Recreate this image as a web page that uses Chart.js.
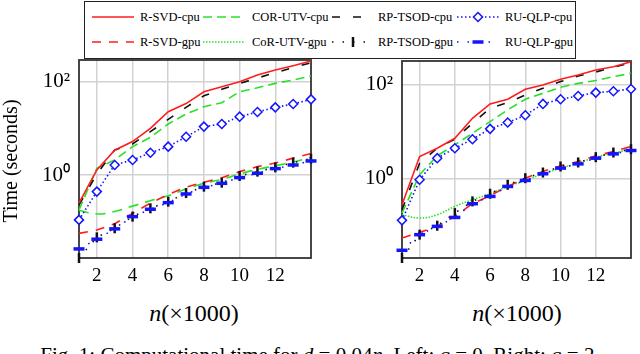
<!DOCTYPE html>
<html>
<head>
<meta charset="utf-8">
<script src="https://cdn.jsdelivr.net/npm/chart.js@4.4.0/dist/chart.umd.min.js"></script>
<style>
html,body{margin:0;padding:0;background:#fff;}
body{width:640px;height:354px;position:relative;overflow:hidden;font-family:"Liberation Serif",serif;color:#000;}
canvas{position:absolute;top:0;}
#c1{left:0;} #c2{left:320px;}
#legendBox{position:absolute;left:84px;top:1px;width:492px;height:58px;border:1.5px solid #222;box-sizing:border-box;background:#fff;z-index:2;}
.lt{position:absolute;font-size:12.5px;line-height:14px;white-space:nowrap;z-index:3;}
.ls{position:absolute;z-index:3;}
.ytitle{position:absolute;left:-70px;top:151px;width:160px;height:20px;line-height:20px;font-size:20px;text-align:center;transform:rotate(-90deg);white-space:nowrap;}
.xtitle{position:absolute;top:301px;width:160px;line-height:24px;font-size:24px;text-align:center;white-space:nowrap;}
#caption{position:absolute;left:0;top:345px;width:640px;text-align:center;font-size:21px;line-height:21px;white-space:nowrap;}
</style>
</head>
<body>
<canvas id="c1" width="320" height="290"></canvas>
<canvas id="c2" width="320" height="290"></canvas>
<div id="legendBox"></div>
<div class="ytitle">Time (seconds)</div>
<div class="xtitle" style="left:114px;"><i>n</i>(×1000)</div>
<div class="xtitle" style="left:437px;"><i>n</i>(×1000)</div>
<div id="caption">Fig. 1: Computational time for <i>d</i> = 0.04<i>n</i>. Left: <i>q</i> = 0. Right: <i>q</i> = 2.</div>
<script>
// ---------- data ----------
const nValues = [1, 2, 3, 4, 5, 6, 7, 8, 9, 10, 11, 12, 13, 14];
const xTickValues = [2, 4, 6, 8, 10, 12];
const yTickValues = [1, 100];
const yTickLabels = ['10\u2070', '10\u00B2'];
const seriesNames = ['R-SVD-cpu', 'COR-UTV-cpu', 'RP-TSOD-cpu', 'RU-QLP-cpu',
                     'R-SVD-gpu', 'CoR-UTV-gpu', 'RP-TSOD-gpu', 'RU-QLP-gpu'];

// Left panel: q = 0
const rsvdCpuQ0 = [0.25, 1.28, 3.4, 5.2, 10, 22.8, 34, 61, 78, 100, 139, 178, 220, 277];
const corCpuQ0  = [0.178, 1.39, 2.1, 4.05, 6.4, 12.4, 20.3, 29.1, 35.5, 61, 74, 92, 109, 132];
const tsodCpuQ0 = [0.228, 1.05, 3.43, 4.62, 8.48, 15.6, 28.2, 50, 68.5, 92, 120, 156, 200, 255];
const qlpCpuQ0  = [0.109, 0.44, 1.64, 2.1, 3.0, 4.05, 6.6, 10.9, 12.4, 17.8, 22.4, 28.2, 33.2, 41.8];
const rsvdGpuQ0 = [0.056, 0.066, 0.09, 0.15, 0.25, 0.38, 0.55, 0.7, 0.87, 1.18, 1.51, 1.8, 2.3, 2.9];
const corGpuQ0  = [0.175, 0.146, 0.165, 0.215, 0.28, 0.36, 0.5, 0.663, 0.807, 1.05, 1.32, 1.58, 1.9, 2.39];
const tsodGpuQ0 = [0.0166, 0.046, 0.072, 0.128, 0.193, 0.268, 0.41, 0.562, 0.685, 0.953, 1.18, 1.46, 1.84, 2.24];
const qlpGpuQ0  = [0.026, 0.042, 0.07, 0.128, 0.184, 0.255, 0.392, 0.544, 0.663, 0.877, 1.09, 1.37, 1.64, 2.0];

// Right panel: q = 2
const rsvdCpuQ2 = [0.28, 2.99, 4.49, 7.3, 19.5, 39.4, 49.6, 80.9, 100, 132, 163, 209, 245, 313];
const corCpuQ2  = [0.186, 1.22, 3.09, 5.29, 9.37, 16.6, 29.4, 49.6, 66.5, 89.1, 108, 124, 150, 177];
const tsodCpuQ2 = [0.219, 2.15, 4.49, 6.98, 15.3, 31.9, 42.1, 61.2, 84.9, 118, 155, 189, 238, 299];
const qlpCpuQ2  = [0.13, 0.953, 2.75, 4.49, 6.98, 11.6, 15.8, 22.6, 39.4, 49.6, 58.3, 68.7, 73.3, 82.2];
const rsvdGpuQ2 = [0.0547, 0.0721, 0.0968, 0.158, 0.294, 0.435, 0.687, 1.03, 1.43, 1.89, 2.34, 3.09, 3.82, 4.88];
const corGpuQ2  = [0.171, 0.146, 0.171, 0.258, 0.357, 0.48, 0.687, 0.922, 1.28, 1.69, 2.15, 2.89, 3.52, 4.28];
const tsodGpuQ2 = [0.0205, 0.0645, 0.1, 0.186, 0.33, 0.48, 0.745, 1.03, 1.36, 1.83, 2.23, 2.89, 3.63, 4.28];
const qlpGpuQ2  = [0.0299, 0.0644, 0.0968, 0.15, 0.294, 0.421, 0.687, 0.922, 1.28, 1.69, 2.08, 2.75, 3.4, 4.01];

// ---------- styles ----------
const RED = 'rgb(255,28,28)', GREEN = 'rgb(40,225,40)', BLACK = '#111', BLUE = 'rgb(20,20,255)';
const seriesStyles = [
  {color: RED,   dash: [],        order: 4},
  {color: GREEN, dash: [9, 5],    order: 6},
  {color: BLACK, dash: [8, 13],   order: 5},
  {color: BLUE,  dash: [1.5, 2.5], order: 3, point: 'rectRot', radius: 4.5, pbw: 1.5, bg: '#fff', rot: 0},
  {color: RED,   dash: [9, 8],    order: 7},
  {color: GREEN, dash: [1.5, 1.5], order: 8, tension: 0.4},
  {color: BLACK, dash: [1.5, 9],  order: 2, point: 'line', radius: 5, pbw: 2.5, rot: 90},
  {color: BLUE,  dash: [1.5, 9],  order: 1, point: 'line', radius: 5.5, pbw: 3.5, rot: 0}
];

Chart.defaults.font.family = '"Liberation Serif", serif';
Chart.defaults.color = '#000';

function makeDatasets(series, dashOverrides) {
  return series.map((vals, i) => {
    const st = seriesStyles[i];
    const dash = (dashOverrides && dashOverrides[i]) ? dashOverrides[i] : st.dash;
    return {
      label: seriesNames[i],
      data: nValues.map((n, k) => ({x: n, y: vals[k]})),
      borderColor: st.color,
      borderWidth: 1.6,
      borderDash: dash,
      tension: st.tension || 0,
      fill: false,
      pointStyle: st.point || false,
      pointRadius: st.point ? st.radius : 0,
      pointBorderWidth: st.pbw || 0,
      pointBorderColor: st.color,
      pointBackgroundColor: st.bg || st.color,
      pointRotation: st.rot || 0,
      clip: false,
      order: st.order
    };
  });
}

const framePlugin = {
  id: 'frame',
  beforeDatasetsDraw(chart) {
    const a = chart.chartArea, ctx = chart.ctx;
    ctx.save();
    ctx.strokeStyle = '#333';
    ctx.lineWidth = 1.8;
    ctx.setLineDash([]);
    ctx.strokeRect(a.left, a.top, a.right - a.left, a.bottom - a.top);
    ctx.restore();
  }
};

function makeChart(id, series, yMin, yMax, yWidth, pad, dashOverrides) {
  return new Chart(document.getElementById(id), {
    type: 'line',
    data: {datasets: makeDatasets(series, dashOverrides)},
    options: {
      responsive: false,
      devicePixelRatio: 1,
      animation: false,
      events: [],
      layout: {padding: pad},
      plugins: {legend: {display: false}, tooltip: {enabled: false}},
      scales: {
        x: {
          type: 'linear', min: 1, max: 14, bounds: 'data',
          afterBuildTicks: s => { s.ticks = xTickValues.map(v => ({value: v})); },
          afterFit: s => { s.height = 32; },
          grid: {color: '#d2d2d2', lineWidth: 1.5, drawTicks: false},
          border: {display: false},
          ticks: {font: {size: 19}, color: '#000', padding: 7, autoSkip: false, maxRotation: 0,
                  callback: v => String(v)}
        },
        y: {
          type: 'logarithmic', min: yMin, max: yMax, bounds: 'data',
          afterBuildTicks: s => { s.ticks = yTickValues.map(v => ({value: v})); },
          afterFit: s => { s.width = yWidth; },
          grid: {color: '#d2d2d2', lineWidth: 1.5, drawTicks: false},
          border: {display: false},
          ticks: {font: {size: 21}, color: '#000', padding: 9, autoSkip: false,
                  callback: v => yTickLabels[yTickValues.indexOf(v)]}
        }
      }
    },
    plugins: [framePlugin]
  });
}

makeChart('c1',
  [rsvdCpuQ0, corCpuQ0, tsodCpuQ0, qlpCpuQ0, rsvdGpuQ0, corGpuQ0, tsodGpuQ0, qlpGpuQ0],
  0.0166, 292, 79, {top: 60, right: 9, left: 0, bottom: 0},
  {5: [10, 7]});
makeChart('c2',
  [rsvdCpuQ2, corCpuQ2, tsodCpuQ2, qlpCpuQ2, rsvdGpuQ2, corGpuQ2, tsodGpuQ2, qlpGpuQ2],
  0.0205, 324, 82, {top: 61, right: 7, left: 0, bottom: 0},
  null);

// ---------- HTML legend (text + line samples) ----------
const legendSampleX = [92, 203, 332, 457];
const legendTextX = [140, 252, 378, 505];
const legendRowY = [17, 42];
const SVGNS = 'http://www.w3.org/2000/svg';
seriesNames.forEach((name, i) => {
  const col = i % 4, row = Math.floor(i / 4);
  const st = seriesStyles[i];
  const cy = legendRowY[row];
  const w = 42;
  const svg = document.createElementNS(SVGNS, 'svg');
  svg.setAttribute('width', w); svg.setAttribute('height', 16);
  svg.setAttribute('class', 'ls');
  svg.style.left = legendSampleX[col] + 'px';
  svg.style.top = (cy - 8) + 'px';
  const ln = document.createElementNS(SVGNS, 'line');
  ln.setAttribute('x1', 0); ln.setAttribute('x2', w);
  ln.setAttribute('y1', 8); ln.setAttribute('y2', 8);
  ln.setAttribute('stroke', st.color); ln.setAttribute('stroke-width', 1.6);
  if (st.dash.length) ln.setAttribute('stroke-dasharray', st.dash.join(' '));
  svg.appendChild(ln);
  if (st.point === 'rectRot') {
    const p = document.createElementNS(SVGNS, 'polygon');
    const c = w / 2, r = st.radius;
    p.setAttribute('points', `${c},${8 - r} ${c + r},8 ${c},${8 + r} ${c - r},8`);
    p.setAttribute('fill', '#fff'); p.setAttribute('stroke', st.color); p.setAttribute('stroke-width', st.pbw);
    svg.appendChild(p);
  } else if (st.point === 'line') {
    const m = document.createElementNS(SVGNS, 'line');
    const c = w / 2, r = st.radius;
    if (st.rot === 90) { m.setAttribute('x1', c); m.setAttribute('x2', c); m.setAttribute('y1', 8 - r); m.setAttribute('y2', 8 + r); }
    else { m.setAttribute('x1', c - r); m.setAttribute('x2', c + r); m.setAttribute('y1', 8); m.setAttribute('y2', 8); }
    m.setAttribute('stroke', st.color); m.setAttribute('stroke-width', st.pbw);
    svg.appendChild(m);
  }
  document.body.appendChild(svg);
  const t = document.createElement('div');
  t.className = 'lt';
  t.textContent = name;
  t.style.left = legendTextX[col] + 'px';
  t.style.top = (cy - 7) + 'px';
  document.body.appendChild(t);
});
</script>
</body>
</html>
